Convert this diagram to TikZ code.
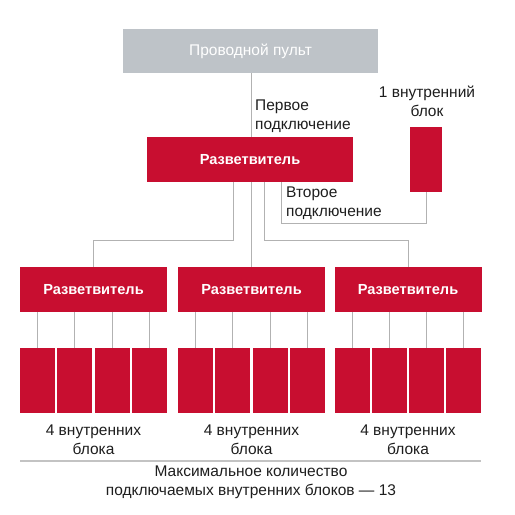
\documentclass[tikz,border=0pt]{standalone}
\usepackage{fontspec}
\setmainfont{Liberation Sans}
\definecolor{boxred}{RGB}{200,14,48}
\definecolor{boxgray}{RGB}{190,195,200}
\definecolor{linegray}{RGB}{178,178,178}
\definecolor{rulegray}{RGB}{195,195,195}
\definecolor{txt}{RGB}{30,30,30}
\begin{document}
\begin{tikzpicture}[x=1pt,y=-1pt,
  redbox/.style={fill=boxred,draw=none,inner sep=0pt,outer sep=0pt},
  splitbox/.style={redbox,minimum width=147pt,minimum height=45pt,text=white,font=\bfseries\fontsize{14.6}{17}\selectfont},
  unitbox/.style={redbox,minimum width=35pt,minimum height=65pt},
  conn/.style={draw=linegray,line width=0.8pt},
  lbl/.style={text=txt,font=\fontsize{15.5}{19}\selectfont,inner sep=0pt}
]
\useasboundingbox (0,0) rectangle (515,515);
\fill[white] (0,0) rectangle (515,515);

\node[fill=boxgray,inner sep=0pt,outer sep=0pt,minimum width=255pt,minimum height=44pt,text=white,font=\fontsize{15.5}{18}\selectfont] (pult) at (250.5,51) {Проводной пульт};
\node[splitbox,minimum width=206pt] (sp) at (250,159.5) {Разветвитель};
\node[redbox,minimum width=32pt,minimum height=65pt] (u0) at (426,159.5) {};

\node[splitbox] (s1) at (93.5,289.5) {Разветвитель};
\node[splitbox] (s2) at (251.5,289.5) {Разветвитель};
\node[splitbox] (s3) at (408,289.5) {Разветвитель};

\foreach \n/\x in {11/37.5,12/74.5,13/112.5,14/149.5,21/195.5,22/232.5,23/270.5,24/307.5,31/352.5,32/389.5,33/426.5,34/463.5}
  \node[unitbox] (u\n) at (\x,380.5) {};

% connectors
\draw[conn] (s2.north |- pult.south) -- (s2.north |- sp.north);
\draw[conn] (s2.north |- sp.south) -- (s2.north);
\draw[conn] ([xshift=-17pt]sp.south) -- ++(0,58) -| (s1.north);
\draw[conn] ([xshift=14pt]sp.south) -- ++(0,58) -| (s3.north);
\draw[conn] ([xshift=31pt]sp.south) -- ++(0,41) -| (u0.south);
\foreach \s/\a/\b/\c/\d in {1/11/12/13/14,2/21/22/23/24,3/31/32/33/34}
  \foreach \u in {\a,\b,\c,\d}
    \draw[conn] (u\u.north |- s\s.south) -- (u\u.north);

\draw[draw=rulegray,line width=2pt] (u11.south west |- 0,461) -- (u34.south east |- 0,461);

% labels
\node[lbl,anchor=west,align=left] (l1) at (255,116.5) {Первое\\подключение};
\node[lbl,align=center] (l2) at (427,101) {1 внутренний\\блок};
\node[lbl,anchor=west,align=left] (l3) at (286,203) {Второе\\подключение};
\node[lbl,align=center] (l4) at (93.5,440) {4 внутренних\\блока};
\node[lbl,align=center] (l5) at (251.5,440) {4 внутренних\\блока};
\node[lbl,align=center] (l6) at (408,440) {4 внутренних\\блока};
\node[lbl,align=center] (l7) at (251,482) {Максимальное количество\\подключаемых внутренних блоков — 13};
\end{tikzpicture}
\end{document}
